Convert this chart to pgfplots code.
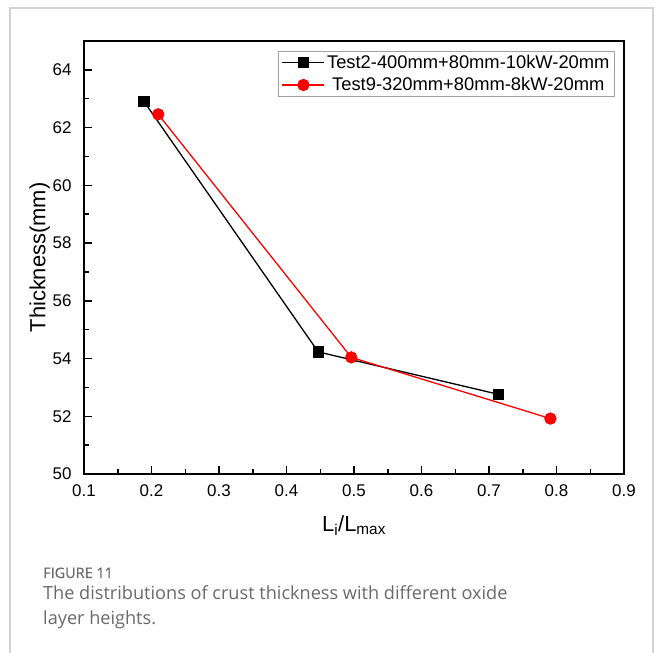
\documentclass[border=0pt]{standalone}
\usepackage{fontspec}
\setmainfont{Liberation Sans}
\newfontfamily\capfont{Open Sans}
\newfontfamily\capfontb[FakeBold=0.6]{Open Sans}
\usepackage{pgfplots}
\pgfplotsset{compat=1.18}
\definecolor{framegray}{RGB}{210,210,210}
\definecolor{capgray}{RGB}{105,105,105}
\definecolor{leggray}{RGB}{160,160,160}
\begin{document}
\begin{tikzpicture}[x=1bp,y=1bp]
\path[use as bounding box] (0,0) rectangle (657,653);
\draw[color=framegray, line width=1.2bp] (10,0) -- (10,645) -- (653,645) -- (653,0);
\begin{axis}[
  at={(84bp,179bp)}, anchor=south west,
  width=540bp, height=433bp, scale only axis,
  xmin=0.1, xmax=0.9, ymin=50, ymax=65,
  xtick={0.1,0.2,0.3,0.4,0.5,0.6,0.7,0.8,0.9},
  ytick={50,52,54,56,58,60,62,64},
  minor x tick num=1, minor y tick num=1,
  tick align=inside, xtick pos=bottom, ytick pos=left,
  major tick length=8bp, minor tick length=4.5bp,
  axis line style={line width=2bp},
  tick style={line width=1.5bp, black},
  ticklabel style={font=\fontsize{17}{20}\selectfont},
  /pgf/number format/assume math mode=true,
  xticklabel style={/pgf/number format/.cd, fixed, fixed zerofill, precision=1},
  xticklabel shift=7bp,
  yticklabel shift=9bp,
  xlabel={L\textsubscript{i}/L\textsubscript{max}},
  ylabel={Thickness(mm)},
  xlabel style={yshift=-12bp},
  ylabel style={yshift=-4bp},
  label style={font=\fontsize{22}{26}\selectfont},
  legend style={at={(0.983,0.977)}, anchor=north east, draw=leggray, line width=0.8bp,
    font=\fontsize{18.4}{22}\selectfont, inner xsep=3bp, inner ysep=2bp, row sep=3.5bp},
  legend cell align=left,
  legend image code/.code={\draw[mark repeat=2, mark phase=2, #1] plot coordinates {(0bp,0bp) (21bp,0bp) (42bp,0bp)};},
]
\addplot[black, line width=1.3bp, mark=square*, mark size=5bp, mark options={solid}]
  coordinates {(0.189,62.90) (0.447,54.23) (0.714,52.76)};
\addlegendentry{Test2-400mm+80mm-10kW-20mm}
\addplot[red, line width=1.3bp, mark=*, mark size=5.5bp, mark options={solid}]
  coordinates {(0.210,62.46) (0.496,54.04) (0.791,51.92)};
\addlegendentry{\ Test9-320mm+80mm-8kW-20mm}
\end{axis}
\node[anchor=base west, text=capgray, font=\capfontb\fontsize{14.5}{17}\selectfont, inner sep=0] at (43,653-578) {FIGURE 11};
\node[anchor=base west, text=capgray, font=\capfont\fontsize{18.2}{21}\selectfont, inner sep=0] at (43,653-600) {The distributions of crust thickness with different oxide};
\node[anchor=base west, text=capgray, font=\capfont\fontsize{18.2}{21}\selectfont, inner sep=0] at (43,653-625) {layer heights.};
\end{tikzpicture}
\end{document}
